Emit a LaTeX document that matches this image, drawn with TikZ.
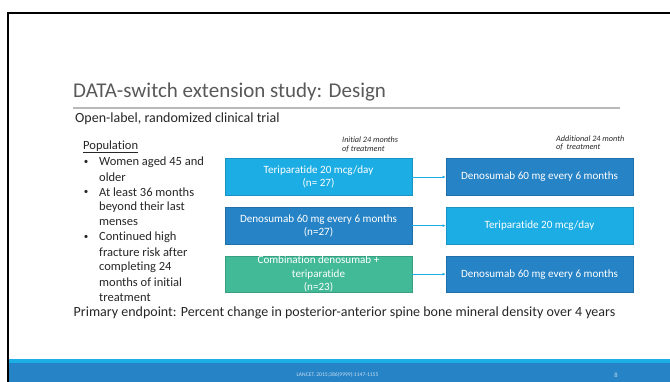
\documentclass[tikz,border=0pt]{standalone}
\usepackage{fontspec}
\setmainfont{Carlito}[Ligatures=CommonOff]
\usepackage{tikz}
\usetikzlibrary{arrows.meta}
\usetikzlibrary{positioning}

\definecolor{ionlight}{HTML}{1CADE4}
\definecolor{iondark}{HTML}{2683C6}
\definecolor{iongreen}{HTML}{42BA97}
\definecolor{titlegray}{HTML}{595959}
\definecolor{bodytext}{HTML}{262626}

\tikzset{
  armbox/.style={rectangle, minimum width=187pt, minimum height=36.5pt,
    inner sep=0pt, text=white, align=center, line width=0.8pt,
    font=\fontsize{11.1}{13.4}\selectfont},
  lightarm/.style={armbox, fill=ionlight, draw=ionlight!85!black},
  darkarm/.style={armbox, fill=iondark, draw=iondark!85!black},
  greenarm/.style={armbox, fill=iongreen, draw=iongreen!85!black},
  switcharrow/.style={draw=ionlight, line width=0.7pt, -{Latex[length=3pt,width=3pt]}},
  phase/.style={font=\fontsize{8.2}{8.5}\selectfont\itshape, align=left, anchor=west, inner sep=0pt, text=bodytext},
  popline/.style={font=\fontsize{12.5}{15}\selectfont, anchor=west, inner sep=0pt, text=bodytext}
}

\begin{document}
\begin{tikzpicture}[x=1pt,y=-1pt]
\useasboundingbox (0,0) rectangle (670,382);
% slide frame and footer
\fill[ionlight] (9,359) rectangle (670,363);
\fill[iondark] (9,363) rectangle (670,382);
\draw[line width=2pt] (7,13) -- (670,13);
\draw[line width=2pt] (8,12) -- (8,382);
% title
\node[anchor=base west, inner sep=0pt, text=titlegray, font=\fontsize{21}{24}\selectfont] (title) at (73,98) {DATA-switch extension study: Design};
\draw[gray!55, line width=1.5pt] (73,108) -- (620,108);
\node[anchor=west, inner sep=0pt, text=bodytext, font=\fontsize{14}{16}\selectfont] (design) at (75,118.5) {Open-label, randomized clinical trial};
% population
\node[popline] (poptitle) at (83,146.7) {\underline{Population}};
\foreach \txt [count=\i] in {Women aged 45 and, older, At least 36 months, beyond their last, menses, Continued high, fracture risk after, completing 24, months of initial, treatment}
  \node[popline] (pop\i) at (99,162.3+15*\i-15) {\txt};
\foreach \i in {1,3,6}
  \node[popline, anchor=center, font=\fontsize{9}{10}\selectfont] (bullet\i) at (86,162.3+15*\i-15) {\textbullet};
% phase labels
\node[phase] (initial) at (342,144.5) {Initial 24 months\\of treatment};
\node[phase] (additional) at (556,143) {Additional 24 month\\of \ treatment};
% treatment arms
\node[lightarm] (tpd) at (318.5,177) {Teriparatide 20 mcg/day\\(n= 27)};
\node[darkarm] (den) at (318.5,225.7) {Denosumab 60 mg every 6 months\\(n=27)};
\node[greenarm] (combo) at (318.5,274.2) {Combination denosumab +\\teriparatide\\(n=23)};
\node[darkarm] (tpdden) at (539.5,177) {Denosumab 60 mg every 6 months};
\node[lightarm] (dentpd) at (539.5,225.7) {Teriparatide 20 mcg/day};
\node[darkarm] (comboden) at (539.5,274.2) {Denosumab 60 mg every 6 months};
\draw[switcharrow] (tpd) -- (tpdden);
\draw[switcharrow] (den) -- (dentpd);
\draw[switcharrow] (combo) -- (comboden);
% endpoint
\node[inner sep=0pt, text=bodytext, font=\fontsize{14}{16}\selectfont] (endpoint) at (344.5,312.5) {Primary endpoint: Percent change in posterior-anterior spine bone mineral density over 4 years};
% footer texts
\node[inner sep=0pt, text=white!75!iondark, font=\fontsize{5.6}{6.5}\selectfont] (source) at (337.5,374.5) {LANCET. 2015;386(9999):1147-1155};
\node[inner sep=0pt, text=white!75!iondark, font=\fontsize{6.5}{7}\selectfont] (pagenum) at (616,375) {8};
\end{tikzpicture}
\end{document}
